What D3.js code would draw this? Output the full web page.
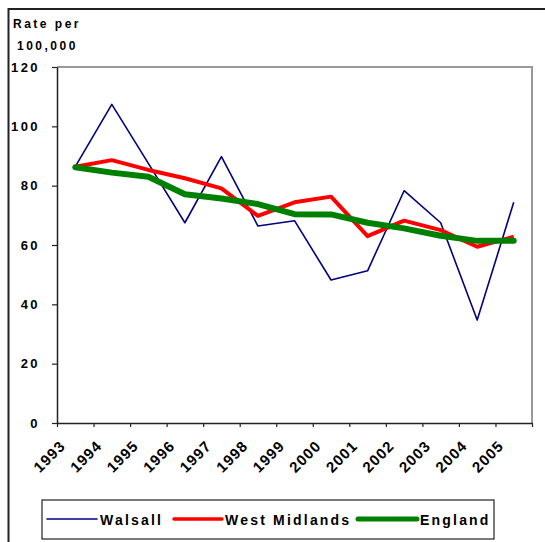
<!DOCTYPE html>
<html>
<head>
<meta charset="utf-8">
<script src="https://cdn.jsdelivr.net/npm/d3@7"></script>
<style>
  body { margin: 0; background: #fff; }
  text { font-family: "Liberation Sans", Arial, sans-serif; font-weight: bold; fill: #000; }
</style>
</head>
<body>
<div id="wrapper"></div>
<script>
// data
const years = ["1993", "1994", "1995", "1996", "1997", "1998", "1999",
	"2000", "2001", "2002", "2003", "2004", "2005"];
const walsall = [86.4, 107.4, 87.5, 67.5, 89.8, 66.4, 68.2, 48.2, 51.3, 78.3, 67.5, 34.7, 74.4];
const westMidlands = [86.4, 88.6, 85.3, 82.5, 79.1, 69.8, 74.4, 76.3, 63.0, 68.2, 65.0, 59.4, 62.8];
const england = [86.2, 84.4, 83.0, 77.1, 75.7, 73.8, 70.4, 70.3, 67.5, 65.6, 63.1, 61.4, 61.4];
const yTicks = [0, 20, 40, 60, 80, 100, 120];

const series = [
	{ name: "Walsall", values: walsall, color: "#000080", width: 1.6, legendWidth: 1.6 },
	{ name: "West Midlands", values: westMidlands, color: "#ff0000", width: 4, legendWidth: 3.5 },
	{ name: "England", values: england, color: "#008000", width: 6, legendWidth: 5 },
];

const width = 545;
const height = 542;
const plot = { left: 57, top: 67, right: 532, bottom: 423 };

const svg = d3.select("#wrapper")
	.append("svg")
	.attr("width", width)
	.attr("height", height);

// outer chart frame (only top and left show)
svg.append("rect")
	.attr("x", 8.5).attr("y", 9)
	.attr("width", 560).attr("height", 560)
	.attr("fill", "none")
	.attr("stroke", "#222")
	.attr("stroke-width", 2);

// scales
const x = d3.scaleBand()
	.domain(years)
	.range([plot.left, plot.right]);

const xEdges = d3.scaleLinear()
	.domain([0, years.length])
	.range([plot.left, plot.right]);

const y = d3.scaleLinear()
	.domain([0, 120])
	.range([plot.bottom, plot.top]);

// plot area border top/right
svg.append("path")
	.attr("d", `M${plot.left},${plot.top}H${plot.right}V${plot.bottom}`)
	.attr("fill", "none")
	.attr("stroke", "#999")
	.attr("stroke-width", 2);

// y axis
const yAxis = svg.append("g")
	.attr("transform", `translate(${plot.left},0)`)
	.call(d3.axisLeft(y).tickValues(yTicks).tickSize(5).tickPadding(12).tickSizeOuter(0));
yAxis.select(".domain").attr("stroke", "#222").attr("stroke-width", 1.5);
yAxis.selectAll(".tick line").attr("stroke", "#222").attr("stroke-width", 1.2);
yAxis.selectAll(".tick text")
	.attr("font-size", 13)
	.attr("letter-spacing", 2.4)
	.attr("font-family", null);

// x axis: ticks at category edges
const xAxis = svg.append("g")
	.attr("transform", `translate(0,${plot.bottom})`)
	.call(d3.axisBottom(xEdges).tickValues(d3.range(years.length + 1)).tickSize(4).tickFormat("").tickSizeOuter(0));
xAxis.select(".domain").attr("stroke", "#222").attr("stroke-width", 1.5);
xAxis.selectAll(".tick line").attr("stroke", "#222").attr("stroke-width", 1.2);

// rotated category labels
svg.append("g")
	.selectAll("text")
	.data(years)
	.join("text")
	.attr("transform", d => `translate(${x(d) + x.bandwidth() / 2 - 9},${plot.bottom + 24}) rotate(-45)`)
	.attr("text-anchor", "end")
	.attr("font-size", 15)
	.attr("letter-spacing", 1)
	.text(d => d);

// y axis title
svg.append("text")
	.attr("x", 13).attr("y", 28)
	.attr("font-size", 12)
	.attr("letter-spacing", 2.5)
	.text("Rate per");
svg.append("text")
	.attr("x", 17).attr("y", 50)
	.attr("font-size", 12)
	.attr("letter-spacing", 2.5)
	.text("100,000");

// lines
const line = d3.line()
	.x((d, i) => x(years[i]) + x.bandwidth() / 2)
	.y(d => y(d));

svg.append("g")
	.selectAll("path")
	.data(series)
	.join("path")
	.attr("d", d => line(d.values))
	.attr("fill", "none")
	.attr("stroke", d => d.color)
	.attr("stroke-width", d => d.width)
	.attr("stroke-linejoin", "round")
	.attr("stroke-linecap", d => d.width > 5 ? "round" : "butt");

// legend
const legend = svg.append("g");
legend.append("rect")
	.attr("x", 42).attr("y", 500)
	.attr("width", 452).attr("height", 39)
	.attr("fill", "#fff")
	.attr("stroke", "#222")
	.attr("stroke-width", 1.2);

const legendX = [47, 174, 358];
const legendLen = [50, 48, 59];
const items = legend.selectAll(".item")
	.data(series)
	.join("g")
	.attr("class", "item")
	.attr("transform", (d, i) => `translate(${legendX[i]},519)`);
items.append("line")
	.attr("x1", 0)
	.attr("x2", (d, i) => legendLen[i])
	.attr("stroke", d => d.color)
	.attr("stroke-width", d => d.legendWidth)
	.attr("stroke-linecap", "round");
items.append("text")
	.attr("x", (d, i) => legendLen[i] + 3)
	.attr("y", 5.5)
	.attr("font-size", 14)
	.attr("letter-spacing", 2.2)
	.text(d => d.name);
</script>
</body>
</html>
